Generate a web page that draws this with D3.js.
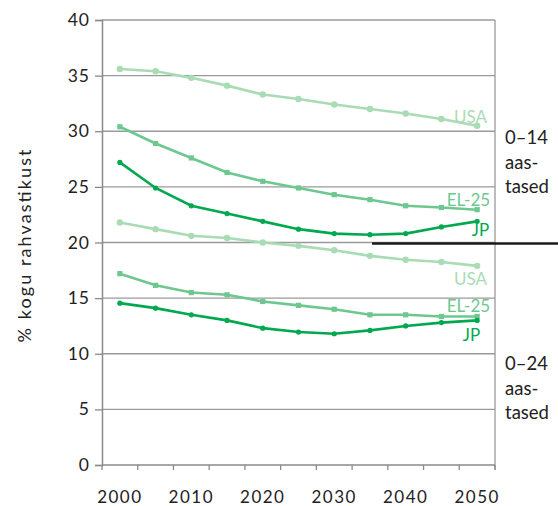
<!DOCTYPE html>
<html><head><meta charset="utf-8">
<script src="https://cdn.jsdelivr.net/npm/d3@7"></script>
<style>
body{margin:0;background:#fff;}
text{font-family:Lato,"Open Sans",sans-serif;}
</style></head>
<body><svg id="c" width="558" height="506"></svg>
<script>
const years = [2000,2005,2010,2015,2020,2025,2030,2035,2040,2045,2050];
const yTicks = [0,5,10,15,20,25,30,35,40];
const xLabels = [2000,2010,2020,2030,2040,2050];
const usa14 = [35.6,35.4,34.8,34.1,33.3,32.9,32.4,32.0,31.6,31.1,30.5];
const eu14  = [30.4,28.9,27.6,26.3,25.5,24.9,24.3,23.85,23.3,23.15,22.95];
const jp14  = [27.2,24.9,23.3,22.6,21.9,21.2,20.8,20.7,20.8,21.4,21.9];
const usa24 = [21.8,21.2,20.6,20.4,20.0,19.7,19.3,18.8,18.45,18.25,17.9];
const eu24  = [17.2,16.15,15.5,15.3,14.7,14.35,14.0,13.5,13.5,13.35,13.35];
const jp24  = [14.55,14.1,13.5,13.0,12.3,11.95,11.8,12.1,12.5,12.8,13.0];

const cUSA="#a9dcb5", cEU="#6dc78f", cJP="#00a94f";
const svg=d3.select("#c");
const L=102,R=495,T=20,B=465;
const x=d3.scaleBand().domain(years).range([L,R]).padding(0);
const y=d3.scaleLinear().domain([0,40]).range([B,T]);
const cx=d=>x(d)+x.bandwidth()/2;

// gridlines
svg.append("g").selectAll("line").data(yTicks.filter(v=>v>0)).join("line")
  .attr("x1",L).attr("x2",R).attr("y1",d=>y(d)).attr("y2",d=>y(d))
  .attr("stroke","#9a9a9a").attr("stroke-width",1.3);
// right border
svg.append("line").attr("x1",R).attr("x2",R).attr("y1",T).attr("y2",B+5)
  .attr("stroke","#9a9a9a").attr("stroke-width",1.3);

// y axis
const ya=svg.append("g").attr("transform",`translate(${L},0)`)
  .call(d3.axisLeft(y).tickValues(yTicks).tickSize(7).tickPadding(5));
ya.select(".domain").attr("stroke","#8a8a8a").attr("stroke-width",1.5);
ya.selectAll(".tick line").attr("stroke","#8a8a8a").attr("stroke-width",1.3);
ya.selectAll(".tick text").attr("font-size",17.5).attr("fill","#222")
  .attr("font-family","Lato").attr("letter-spacing",1);

// x axis
const xa=svg.append("g").attr("transform",`translate(0,${B})`);
xa.append("line").attr("x1",L).attr("x2",R).attr("stroke","#8a8a8a").attr("stroke-width",1.5);
const bounds=years.map(d=>x(d)).concat([R]);
xa.selectAll("line.t").data(bounds).join("line").attr("class","t")
  .attr("x1",d=>d).attr("x2",d=>d).attr("y1",0).attr("y2",5)
  .attr("stroke","#8a8a8a").attr("stroke-width",1.3);
xa.selectAll("text").data(xLabels).join("text")
  .attr("x",d=>cx(d)).attr("y",38).attr("text-anchor","middle")
  .attr("font-size",17).attr("fill","#222").attr("letter-spacing",1.5).text(d=>d);

// y title
svg.append("text").attr("transform","translate(31,246) rotate(-90)")
  .attr("text-anchor","middle").attr("font-family","Open Sans").attr("font-size",18)
  .attr("textLength",193).attr("lengthAdjust","spacing")
  .attr("fill","#222").text("% kogu rahvastikust");

const line=d3.line().x((d,i)=>cx(years[i])).y(d=>y(d));
const series=[
  {v:usa14,c:cUSA,m:"circle",lab:"USA",dx:10,dy:-3},
  {v:eu14,c:cEU,m:"square",lab:"EL-25",dx:13,dy:-4},
  {v:jp14,c:cJP,m:"dot",lab:"JP",dx:12,dy:15},
  {v:usa24,c:cUSA,m:"circle",lab:"USA",dx:10,dy:19},
  {v:eu24,c:cEU,m:"square",lab:"EL-25",dx:13,dy:-4},
  {v:jp24,c:cJP,m:"dot",lab:"JP",dx:3,dy:21}
];
series.forEach(s=>{
  const g=svg.append("g");
  g.append("path").datum(s.v).attr("d",line).attr("fill","none")
    .attr("stroke",s.c).attr("stroke-width",2.6);
  if(s.m==="square"){
    g.selectAll("rect").data(s.v).join("rect")
      .attr("x",(d,i)=>cx(years[i])-2.6).attr("y",d=>y(d)-2.6)
      .attr("width",5.2).attr("height",5.2).attr("fill",s.c);
  } else {
    g.selectAll("circle").data(s.v).join("circle")
      .attr("cx",(d,i)=>cx(years[i])).attr("cy",d=>y(d))
      .attr("r",s.m==="circle"?3.2:2.6).attr("fill",s.c);
  }
  const last=s.v[s.v.length-1];
  g.append("text").attr("x",cx(years[years.length-1])+s.dx).attr("y",y(last)+s.dy)
    .attr("text-anchor","end").attr("font-size",17).attr("fill",s.c).text(s.lab);
});

// separator
svg.append("line").attr("x1",372).attr("x2",558).attr("y1",y(19.9)).attr("y2",y(19.9))
  .attr("stroke","#1a1a1a").attr("stroke-width",2.5);

// side labels
const side=[["0–14","aas-","tased",144],["0–24","aas-","tased",370]];
side.forEach(s=>{
  const t=svg.append("text").attr("x",505).attr("y",s[3]).attr("font-size",18.5).attr("fill","#222");
  t.append("tspan").attr("x",505).attr("dy",0).text(s[0]);
  t.append("tspan").attr("x",505).attr("dy",24.5).text(s[1]);
  t.append("tspan").attr("x",505).attr("dy",24.5).text(s[2]);
});
</script></body></html>
